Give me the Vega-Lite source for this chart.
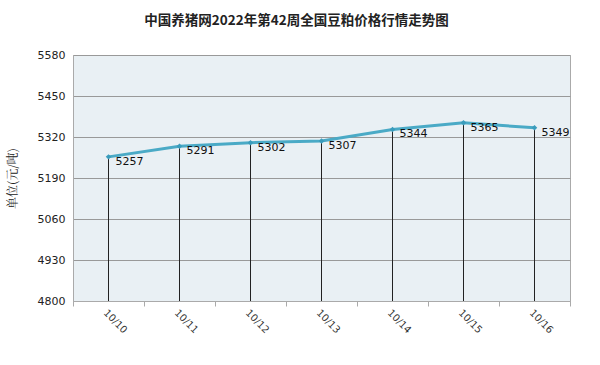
{
  "$schema": "https://vega.github.io/schema/vega-lite/v6.json",
  "autosize": "none",
  "width": 497,
  "height": 246,
  "padding": {"left": 73, "top": 55, "right": 30, "bottom": 64},
  "background": "white",
  "title": {"text": "中国养猪网2022年第42周全国豆粕价格行情走势图", "fontSize": 13.5, "font": "Noto Sans CJK SC", "fontWeight": "bold", "color": "#222222", "anchor": "middle", "offset": 22, "dx": -25},
  "config": {
    "view": {"fill": "#e9f0f4", "stroke": "#aaaaaa"},
    "axis": {"labelFont": "DejaVu Sans", "labelFontSize": 11, "labelColor": "#222222", "domainColor": "#999999", "tickColor": "#999999"}
  },
  "data": {"values": [
    {"date": "10/10", "price": 5257},
    {"date": "10/11", "price": 5291},
    {"date": "10/12", "price": 5302},
    {"date": "10/13", "price": 5307},
    {"date": "10/14", "price": 5344},
    {"date": "10/15", "price": 5365},
    {"date": "10/16", "price": 5349}
  ]},
  "encoding": {
    "x": {"field": "date", "type": "ordinal", "scale": {"paddingInner": 0, "paddingOuter": 0},
      "axis": {"title": null, "labelAngle": 45, "labelAlign": "left", "labelBaseline": "middle", "labelPadding": 5, "labelOffset": -4, "labelFontSize": 10, "grid": false, "ticks": true, "tickBand": "extent", "tickSize": 5, "tickColor": "#aaaaaa", "domainColor": "#aaaaaa", "labelColor": "#333333"}},
    "y": {"field": "price", "type": "quantitative", "scale": {"domain": [4800, 5580], "zero": false, "nice": false},
      "axis": {"title": "单位(元/吨)", "format": "d", "titleFont": "Noto Serif CJK SC, Noto Sans CJK SC", "titleFontWeight": "normal", "titleFontSize": 12, "titleColor": "#222222", "titlePadding": 18, "values": [4800, 4930, 5060, 5190, 5320, 5450, 5580], "gridColor": "#999999", "gridWidth": 1, "ticks": false, "labelPadding": 8, "domainColor": "#aaaaaa"}}
  },
  "layer": [
    {"mark": {"type": "rule", "color": "#222222", "strokeWidth": 1}, "encoding": {"y2": {"datum": 4800}}},
    {"mark": {"type": "line", "color": "#4aaac6", "strokeWidth": 3}},
    {"mark": {"type": "point", "shape": "diamond", "filled": true, "size": 30, "color": "#3a9cbc", "opacity": 1}},
    {"mark": {"type": "text", "align": "left", "dx": 7, "dy": 5, "fontSize": 11, "font": "DejaVu Sans", "color": "#111111"}, "encoding": {"text": {"field": "price", "type": "quantitative"}}}
  ]
}
